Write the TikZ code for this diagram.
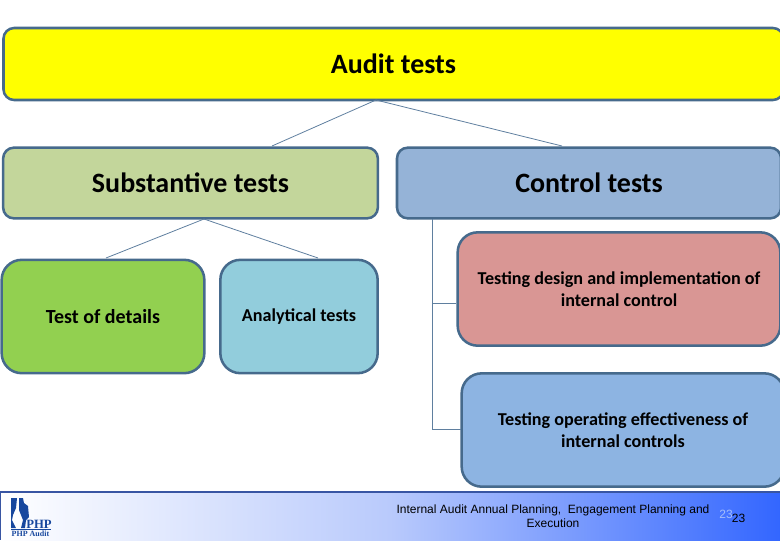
\documentclass[tikz,border=0pt]{standalone}
\usepackage{fontspec}
\setmainfont{Carlito}
\newfontfamily\footfont{Liberation Sans}
\newfontfamily\logofont{Liberation Serif}
\definecolor{boxline}{HTML}{466A8C}
\definecolor{linkline}{HTML}{5F7F9F}
\definecolor{logoblue}{HTML}{17479E}
\definecolor{audityellow}{RGB}{255,255,0}
\definecolor{substgreen}{RGB}{195,214,155}
\definecolor{controlblue}{RGB}{149,179,215}
\definecolor{detailsgreen}{RGB}{146,208,80}
\definecolor{analyticblue}{RGB}{146,205,220}
\definecolor{designred}{RGB}{217,150,148}
\definecolor{operatingblue}{RGB}{141,180,226}
\definecolor{footblue}{RGB}{51,102,255}
\definecolor{footmid}{RGB}{185,202,252}
\definecolor{footpale}{RGB}{165,190,250}
\tikzset{
  testbox/.style={draw=boxline,line width=1.9pt,rounded corners=8pt,align=center,inner sep=0pt},
  bigtext/.style={font=\fontsize{21}{25}\selectfont\bfseries},
  subbox/.style={testbox,rounded corners=15pt,minimum height=85pt,font=\fontsize{13.6}{16.5}\selectfont\bfseries},
  footnum/.style={font=\footfont\fontsize{9}{10}\selectfont,inner sep=0pt},
  link/.style={draw=linkline,line width=0.6pt}
}
\begin{document}
\begin{tikzpicture}[x=0.75pt,y=-0.75pt]
  \useasboundingbox (0,0) rectangle (780,540);
  \clip (0,0) rectangle (780,540);

  \node[testbox,bigtext,fill=audityellow,minimum width=585pt,minimum height=54pt] (audit) at (393.5,64) {Audit tests};
  \node[testbox,bigtext,fill=substgreen,minimum width=281pt,minimum height=53pt] (subst) at (190.5,183) {Substantive tests};
  \node[testbox,bigtext,fill=controlblue,minimum width=288pt,minimum height=53pt] (control) at (589,183) {Control tests};

  \node[subbox,fill=detailsgreen,minimum width=152pt,font=\fontsize{15}{18}\selectfont\bfseries] (details) at (103,316.5) {Test of details};
  \node[subbox,fill=analyticblue,minimum width=118pt] (analytic) at (299,316.5) {Analytical tests};
  \node[subbox,fill=designred,minimum width=242pt] (design) at (619,289) {Testing design and implementation of\\internal control};
  \node[subbox,fill=operatingblue,minimum width=242pt] (operating) at (623,430) {Testing operating effectiveness of\\internal controls};

  % connectors
  \coordinate (auditfoot) at (376,100);
  \coordinate (substtop) at (272,146);
  \coordinate (controltop) at (562,146);
  \coordinate (substfoot) at (204,219);
  \coordinate (detailstop) at (106,258);
  \coordinate (analytictop) at (318,258);
  \coordinate (controlfoot) at (432,219);
  \coordinate (designjoin) at (432,303);
  \coordinate (designside) at (456,303);
  \coordinate (operatingjoin) at (432,429);
  \coordinate (operatingside) at (461,429);
  \draw[link] (auditfoot) -- (substtop);
  \draw[link] (auditfoot) -- (controltop);
  \draw[link] (substfoot) -- (detailstop);
  \draw[link] (substfoot) -- (analytictop);
  \draw[link] (controlfoot) -- (operatingjoin) -- (operatingside);
  \draw[link] (designjoin) -- (designside);

  % footer
  \path[left color=white,right color=footblue,middle color=footmid] (0,492) rectangle (780,540);
  \draw[draw=boxline!80!blue,line width=0.8pt] (0,540) -- (0,492) -- (780,492);
  \node[font=\footfont\fontsize{9}{10.5}\selectfont,align=center,inner sep=0pt] (footertext) at (553,516) {Internal Audit Annual Planning,\ \ Engagement Planning and\\Execution};
  \node[footnum,text=footpale] (slidepale) at (726,514) {23};
  \node[footnum] (slidenum) at (738.5,518) {23};

  % logo
  \fill[logoblue] (11,498) -- (17,498) -- (16,508) -- (13,515) -- (12,520) -- (16,528) -- (11,528) -- cycle;
  \fill[logoblue] (19,498) -- (23,498) -- (24,503) -- (28,506) -- (29,517) -- (26,520) -- (25,528) -- (21,528) -- (23,520) -- (19,510) -- cycle;
  \node[font=\logofont\bfseries\fontsize{9.5}{10}\selectfont,text=logoblue,inner sep=0pt] (logophp) at (39,524) {PHP};
  \draw[logoblue,line width=0.5pt] (11,529.5) -- (51,529.5);
  \node[font=\logofont\bfseries\fontsize{6}{6}\selectfont,text=logoblue,inner sep=0pt] (logoname) at (30.5,534) {PHP Audit};
\end{tikzpicture}
\end{document}
